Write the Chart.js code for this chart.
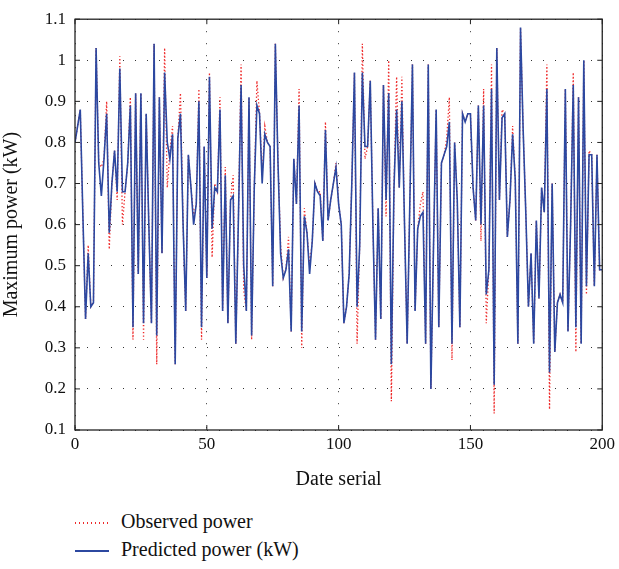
<!DOCTYPE html>
<html>
<head>
<meta charset="utf-8">
<script src="https://cdn.jsdelivr.net/npm/chart.js@4"></script>
<style>
  body { margin: 0; background: #fff; }
  #wrap { position: relative; width: 619px; height: 569px; }
  #box { position: absolute; left: 0; top: 0; width: 619px; height: 500px; }
  .leg { position: absolute; left: 75px; font-family: "Liberation Serif", serif; font-size: 20px; color: #111; }
  .leg span { display: inline-block; width: 34px; height: 2px; margin-right: 12px; vertical-align: middle; }
  .dots { background: repeating-linear-gradient(90deg, #ee2b2b 0 1.5px, transparent 1.5px 4px); }
  .solid { background: #2c48a0; }
</style>
</head>
<body>
<div id="wrap">
  <div id="box"><canvas id="powerChart"></canvas></div>
  <div class="leg" style="top:510px"><span class="dots"></span>Observed power</div>
  <div class="leg" style="top:538px"><span class="solid"></span>Predicted power (kW)</div>
</div>
<script>
// values, one per date serial 0..200
const predicted = [
  0.80,0.84,0.88,0.62,0.37,0.53,0.40,0.41,1.03,0.75,
  0.67,0.76,0.87,0.58,0.70,0.78,0.68,0.98,0.68,0.68,
  0.75,0.89,0.35,0.92,0.48,0.92,0.36,0.87,0.60,0.36,
  1.04,0.33,0.91,0.53,0.97,0.80,0.76,0.82,0.26,0.81,
  0.87,0.60,0.39,0.77,0.69,0.60,0.65,0.90,0.35,0.79,
  0.47,0.96,0.59,0.69,0.68,0.88,0.39,0.72,0.36,0.66,
  0.67,0.31,0.62,0.94,0.50,0.39,0.91,0.33,0.69,0.89,
  0.87,0.70,0.82,0.80,0.79,0.45,1.04,0.75,0.53,0.47,
  0.49,0.54,0.34,0.76,0.65,0.89,0.34,0.62,0.58,0.48,
  0.56,0.70,0.68,0.67,0.56,0.83,0.61,0.66,0.70,0.74,
  0.65,0.60,0.36,0.40,0.48,0.70,0.97,0.40,0.55,0.97,
  0.79,0.79,0.95,0.60,0.32,0.64,0.37,0.94,0.66,0.92,
  0.26,0.69,0.88,0.69,0.90,0.60,0.31,0.65,0.99,0.39,
  0.59,0.62,0.63,0.31,0.99,0.20,0.55,0.88,0.35,0.75,
  0.77,0.79,0.85,0.31,0.80,0.66,0.35,0.87,0.85,0.87,
  0.87,0.69,0.61,0.89,0.60,0.89,0.43,0.49,0.93,0.21,
  1.03,0.66,0.86,0.87,0.57,0.66,0.82,0.71,0.31,1.08,
  0.83,0.63,0.40,0.53,0.31,0.61,0.42,0.69,0.63,0.93,
  0.24,0.70,0.29,0.41,0.43,0.41,0.93,0.34,0.60,0.94,
  0.35,0.91,0.31,1.00,0.45,0.77,0.77,0.45,0.77,0.49,
  0.49
];
const observed = [
  0.80,0.84,0.88,0.62,0.37,0.55,0.40,0.41,1.03,0.75,
  0.74,0.76,0.90,0.54,0.70,0.78,0.66,1.01,0.60,0.68,
  0.75,0.91,0.32,0.92,0.48,0.92,0.32,0.87,0.60,0.36,
  1.04,0.26,0.91,0.53,1.03,0.69,0.78,0.84,0.26,0.81,
  0.92,0.60,0.39,0.77,0.69,0.62,0.65,0.93,0.32,0.79,
  0.47,0.97,0.52,0.70,0.68,0.91,0.39,0.74,0.36,0.66,
  0.72,0.31,0.62,0.99,0.44,0.39,0.91,0.32,0.69,0.95,
  0.87,0.72,0.84,0.80,0.79,0.45,1.04,0.75,0.55,0.47,
  0.49,0.57,0.34,0.76,0.65,0.93,0.30,0.64,0.58,0.50,
  0.56,0.70,0.68,0.68,0.56,0.85,0.61,0.66,0.70,0.75,
  0.65,0.60,0.36,0.40,0.48,0.70,0.97,0.31,0.55,1.04,
  0.76,0.79,0.95,0.60,0.32,0.64,0.37,0.94,0.62,1.00,
  0.17,0.69,0.96,0.69,0.96,0.60,0.31,0.65,0.99,0.39,
  0.59,0.65,0.68,0.31,0.99,0.20,0.55,0.88,0.35,0.75,
  0.77,0.81,0.91,0.27,0.80,0.66,0.35,0.87,0.85,0.87,
  0.87,0.69,0.61,0.89,0.56,0.93,0.36,0.49,0.99,0.14,
  1.03,0.66,0.88,0.87,0.57,0.66,0.84,0.71,0.31,1.08,
  0.83,0.63,0.40,0.53,0.31,0.61,0.42,0.69,0.63,0.99,
  0.15,0.70,0.29,0.41,0.43,0.41,0.93,0.34,0.60,0.97,
  0.29,0.91,0.31,1.00,0.43,0.78,0.77,0.45,0.77,0.49,
  0.49
];
const xTicks = [0, 50, 100, 150, 200];
const yTicks = [0.1, 0.2, 0.3, 0.4, 0.5, 0.6, 0.7, 0.8, 0.9, 1, 1.1];

const serif = "'Liberation Serif', 'DejaVu Serif', serif";
const toPoints = arr => arr.map((v, i) => ({ x: i, y: v }));

// box frame and inward tick marks, drawn over the lines
const framePlugin = {
    id: 'frame',
    afterDatasetsDraw(chart) {
        const { ctx, chartArea: a, scales } = chart;
        ctx.save();
        ctx.strokeStyle = '#222';
        ctx.lineWidth = 1.3;
        ctx.setLineDash([]);
        ctx.strokeRect(a.left, a.top, a.right - a.left, a.bottom - a.top);
        ctx.lineWidth = 1;
        xTicks.forEach(t => {
            const px = scales.x.getPixelForValue(t);
            ctx.beginPath();
            ctx.moveTo(px, a.bottom); ctx.lineTo(px, a.bottom - 5);
            ctx.moveTo(px, a.top); ctx.lineTo(px, a.top + 5);
            ctx.stroke();
        });
        yTicks.forEach(t => {
            const py = scales.y.getPixelForValue(t);
            ctx.beginPath();
            ctx.moveTo(a.left, py); ctx.lineTo(a.left + 5, py);
            ctx.moveTo(a.right, py); ctx.lineTo(a.right - 5, py);
            ctx.stroke();
        });
        ctx.restore();
    }
};

const ctx = document.getElementById('powerChart').getContext('2d');
new Chart(ctx, {
    type: 'line',
    data: {
        datasets: [
            {
                label: 'Predicted power (kW)',
                data: toPoints(predicted),
                borderColor: '#2c48a0',
                borderWidth: 1.6,
                pointRadius: 0,
                tension: 0,
                order: 0
            },
            {
                label: 'Observed power',
                data: toPoints(observed),
                borderColor: '#ee2b2b',
                borderWidth: 1.3,
                borderDash: [1.3, 2.2],
                pointRadius: 0,
                tension: 0,
                order: 1
            }
        ]
    },
    plugins: [framePlugin],
    options: {
        responsive: true,
        maintainAspectRatio: false,
        animation: false,
        layout: { padding: { top: 14, right: 15, left: 0, bottom: 0 } },
        plugins: {
            legend: { display: false },
            tooltip: { enabled: false }
        },
        scales: {
            x: {
                type: 'linear',
                min: 0,
                max: 200,
                afterBuildTicks: s => { s.ticks = xTicks.map(v => ({ value: v })); },
                afterFit: s => { s.height = 70; },
                grid: { color: '#333', lineWidth: 1, drawTicks: false },
                border: { display: false, dash: [1, 11] },
                ticks: { padding: 4, color: '#111', font: { family: serif, size: 17 } },
                title: { display: true, text: 'Date serial', color: '#111', padding: { top: 0, bottom: 8 }, font: { family: serif, size: 20 } }
            },
            y: {
                min: 0.1,
                max: 1.1,
                afterBuildTicks: s => { s.ticks = yTicks.map(v => ({ value: v })); },
                afterFit: s => { s.width = 75; },
                grid: { color: '#333', lineWidth: 1, drawTicks: false },
                border: { display: false, dash: [1, 11] },
                ticks: {
                    padding: 9,
                    color: '#111',
                    font: { family: serif, size: 17 },
                    callback: v => String(+v.toFixed(1))
                },
                title: { display: true, text: 'Maximum power (kW)', color: '#111', padding: { top: 0, bottom: 4 }, font: { family: serif, size: 20 } }
            }
        }
    }
});
</script>
</body>
</html>
